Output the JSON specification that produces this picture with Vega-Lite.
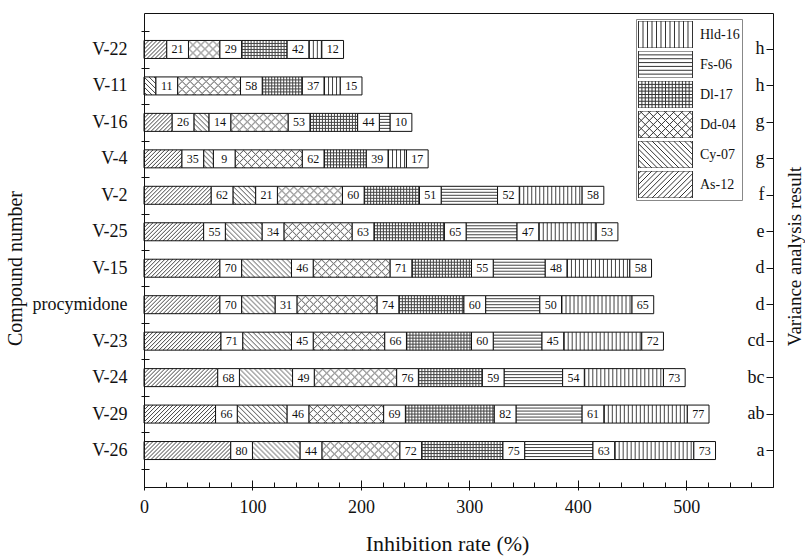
{
  "$schema": "https://vega.github.io/schema/vega-lite/v6.json",
  "autosize": "none",
  "padding": {"left": 144, "top": 13, "right": 32, "bottom": 69},
  "width": 629,
  "height": 474,
  "background": "white",
  "datasets": {
    "segments": [
      {"compound": "V-22", "series": "As-12", "value": 21},
      {"compound": "V-22", "series": "Dd-04", "value": 29},
      {"compound": "V-22", "series": "Dl-17", "value": 42},
      {"compound": "V-22", "series": "Hld-16", "value": 12},
      {"compound": "V-11", "series": "Cy-07", "value": 11},
      {"compound": "V-11", "series": "Dd-04", "value": 58},
      {"compound": "V-11", "series": "Dl-17", "value": 37},
      {"compound": "V-11", "series": "Hld-16", "value": 15},
      {"compound": "V-16", "series": "As-12", "value": 26},
      {"compound": "V-16", "series": "Cy-07", "value": 14},
      {"compound": "V-16", "series": "Dd-04", "value": 53},
      {"compound": "V-16", "series": "Dl-17", "value": 44},
      {"compound": "V-16", "series": "Fs-06", "value": 10},
      {"compound": "V-4", "series": "As-12", "value": 35},
      {"compound": "V-4", "series": "Cy-07", "value": 9},
      {"compound": "V-4", "series": "Dd-04", "value": 62},
      {"compound": "V-4", "series": "Dl-17", "value": 39},
      {"compound": "V-4", "series": "Hld-16", "value": 17},
      {"compound": "V-2", "series": "As-12", "value": 62},
      {"compound": "V-2", "series": "Cy-07", "value": 21},
      {"compound": "V-2", "series": "Dd-04", "value": 60},
      {"compound": "V-2", "series": "Dl-17", "value": 51},
      {"compound": "V-2", "series": "Fs-06", "value": 52},
      {"compound": "V-2", "series": "Hld-16", "value": 58},
      {"compound": "V-25", "series": "As-12", "value": 55},
      {"compound": "V-25", "series": "Cy-07", "value": 34},
      {"compound": "V-25", "series": "Dd-04", "value": 63},
      {"compound": "V-25", "series": "Dl-17", "value": 65},
      {"compound": "V-25", "series": "Fs-06", "value": 47},
      {"compound": "V-25", "series": "Hld-16", "value": 53},
      {"compound": "V-15", "series": "As-12", "value": 70},
      {"compound": "V-15", "series": "Cy-07", "value": 46},
      {"compound": "V-15", "series": "Dd-04", "value": 71},
      {"compound": "V-15", "series": "Dl-17", "value": 55},
      {"compound": "V-15", "series": "Fs-06", "value": 48},
      {"compound": "V-15", "series": "Hld-16", "value": 58},
      {"compound": "procymidone", "series": "As-12", "value": 70},
      {"compound": "procymidone", "series": "Cy-07", "value": 31},
      {"compound": "procymidone", "series": "Dd-04", "value": 74},
      {"compound": "procymidone", "series": "Dl-17", "value": 60},
      {"compound": "procymidone", "series": "Fs-06", "value": 50},
      {"compound": "procymidone", "series": "Hld-16", "value": 65},
      {"compound": "V-23", "series": "As-12", "value": 71},
      {"compound": "V-23", "series": "Cy-07", "value": 45},
      {"compound": "V-23", "series": "Dd-04", "value": 66},
      {"compound": "V-23", "series": "Dl-17", "value": 60},
      {"compound": "V-23", "series": "Fs-06", "value": 45},
      {"compound": "V-23", "series": "Hld-16", "value": 72},
      {"compound": "V-24", "series": "As-12", "value": 68},
      {"compound": "V-24", "series": "Cy-07", "value": 49},
      {"compound": "V-24", "series": "Dd-04", "value": 76},
      {"compound": "V-24", "series": "Dl-17", "value": 59},
      {"compound": "V-24", "series": "Fs-06", "value": 54},
      {"compound": "V-24", "series": "Hld-16", "value": 73},
      {"compound": "V-29", "series": "As-12", "value": 66},
      {"compound": "V-29", "series": "Cy-07", "value": 46},
      {"compound": "V-29", "series": "Dd-04", "value": 69},
      {"compound": "V-29", "series": "Dl-17", "value": 82},
      {"compound": "V-29", "series": "Fs-06", "value": 61},
      {"compound": "V-29", "series": "Hld-16", "value": 77},
      {"compound": "V-26", "series": "As-12", "value": 80},
      {"compound": "V-26", "series": "Cy-07", "value": 44},
      {"compound": "V-26", "series": "Dd-04", "value": 72},
      {"compound": "V-26", "series": "Dl-17", "value": 75},
      {"compound": "V-26", "series": "Fs-06", "value": 63},
      {"compound": "V-26", "series": "Hld-16", "value": 73}
    ],
    "results": [
      {"compound": "V-22", "result": "h"},
      {"compound": "V-11", "result": "h"},
      {"compound": "V-16", "result": "g"},
      {"compound": "V-4", "result": "g"},
      {"compound": "V-2", "result": "f"},
      {"compound": "V-25", "result": "e"},
      {"compound": "V-15", "result": "d"},
      {"compound": "procymidone", "result": "d"},
      {"compound": "V-23", "result": "cd"},
      {"compound": "V-24", "result": "bc"},
      {"compound": "V-29", "result": "ab"},
      {"compound": "V-26", "result": "a"}
    ]
  },
  "data": {"name": "segments"},
  "transform": [
    {"window": [{"op": "sum", "field": "value", "as": "cum"}, {"op": "row_number", "as": "idx"}], "groupby": ["compound"], "sort": [{"field": "series", "order": "ascending"}], "frame": [null, 0]},
    {"calculate": "datum.cum - datum.value + 20 * (datum.idx - 1)", "as": "x0"},
    {"calculate": "datum.x0 + datum.value", "as": "x1"},
    {"calculate": "datum.x1 + 20", "as": "x2"}
  ],
  "encoding": {
    "y": {"field": "compound", "type": "nominal", "scale": {"domain": ["V-22","V-11","V-16","V-4","V-2","V-25","V-15","procymidone","V-23","V-24","V-29","V-26"], "paddingInner": 0, "paddingOuter": 0.5}, "axis": null}
  },
  "resolve": {"axis": {"x": "independent", "y": "independent"}},
  "layer": [
    {
      "transform": [{"filter": {"field": "series", "oneOf": ["As-12", "Cy-07", "Dd-04"]}}],
      "encoding": {
        "x": {"field": "x0", "type": "quantitative", "scale": {"domain": [0, 580], "nice": false}, "axis": null},
        "x2": {"field": "x1"}
      },
      "layer": [
        {"mark": {"type": "rule", "yOffset": -8.5, "strokeWidth": 1, "color": "#444"}, "encoding": {"strokeDash": {"condition": [{"test": "datum.series==='As-12'", "value": [1,3]}, {"test": "datum.series==='Cy-07'", "value": [1,4]}], "value": [1,7]}}},
        {"mark": {"type": "rule", "yOffset": -7.5, "strokeWidth": 1, "color": "#444"}, "encoding": {"strokeDash": {"condition": [{"test": "datum.series==='As-12'", "value": [0,3,1,0]}, {"test": "datum.series==='Cy-07'", "value": [0,1,1,3]}], "value": [0,1,1,5,1,0]}}},
        {"mark": {"type": "rule", "yOffset": -6.5, "strokeWidth": 1, "color": "#444"}, "encoding": {"strokeDash": {"condition": [{"test": "datum.series==='As-12'", "value": [0,2,1,1]}, {"test": "datum.series==='Cy-07'", "value": [0,2,1,2]}], "value": [0,2,1,3,1,1]}}},
        {"mark": {"type": "rule", "yOffset": -5.5, "strokeWidth": 1, "color": "#444"}, "encoding": {"strokeDash": {"condition": [{"test": "datum.series==='As-12'", "value": [0,1,1,2]}, {"test": "datum.series==='Cy-07'", "value": [0,3,1,1]}], "value": [0,3,1,1,1,2]}}},
        {"mark": {"type": "rule", "yOffset": -4.5, "strokeWidth": 1, "color": "#444"}, "encoding": {"strokeDash": {"condition": [{"test": "datum.series==='As-12'", "value": [1,3]}, {"test": "datum.series==='Cy-07'", "value": [0,4,1,0]}], "value": [0,4,1,3]}}},
        {"mark": {"type": "rule", "yOffset": -3.5, "strokeWidth": 1, "color": "#444"}, "encoding": {"strokeDash": {"condition": [{"test": "datum.series==='As-12'", "value": [0,3,1,0]}, {"test": "datum.series==='Cy-07'", "value": [1,4]}], "value": [0,3,1,1,1,2]}}},
        {"mark": {"type": "rule", "yOffset": -2.5, "strokeWidth": 1, "color": "#444"}, "encoding": {"strokeDash": {"condition": [{"test": "datum.series==='As-12'", "value": [0,2,1,1]}, {"test": "datum.series==='Cy-07'", "value": [0,1,1,3]}], "value": [0,2,1,3,1,1]}}},
        {"mark": {"type": "rule", "yOffset": -1.5, "strokeWidth": 1, "color": "#444"}, "encoding": {"strokeDash": {"condition": [{"test": "datum.series==='As-12'", "value": [0,1,1,2]}, {"test": "datum.series==='Cy-07'", "value": [0,2,1,2]}], "value": [0,1,1,5,1,0]}}},
        {"mark": {"type": "rule", "yOffset": -0.5, "strokeWidth": 1, "color": "#444"}, "encoding": {"strokeDash": {"condition": [{"test": "datum.series==='As-12'", "value": [1,3]}, {"test": "datum.series==='Cy-07'", "value": [0,3,1,1]}], "value": [1,7]}}},
        {"mark": {"type": "rule", "yOffset": 0.5, "strokeWidth": 1, "color": "#444"}, "encoding": {"strokeDash": {"condition": [{"test": "datum.series==='As-12'", "value": [0,3,1,0]}, {"test": "datum.series==='Cy-07'", "value": [0,4,1,0]}], "value": [0,1,1,5,1,0]}}},
        {"mark": {"type": "rule", "yOffset": 1.5, "strokeWidth": 1, "color": "#444"}, "encoding": {"strokeDash": {"condition": [{"test": "datum.series==='As-12'", "value": [0,2,1,1]}, {"test": "datum.series==='Cy-07'", "value": [1,4]}], "value": [0,2,1,3,1,1]}}},
        {"mark": {"type": "rule", "yOffset": 2.5, "strokeWidth": 1, "color": "#444"}, "encoding": {"strokeDash": {"condition": [{"test": "datum.series==='As-12'", "value": [0,1,1,2]}, {"test": "datum.series==='Cy-07'", "value": [0,1,1,3]}], "value": [0,3,1,1,1,2]}}},
        {"mark": {"type": "rule", "yOffset": 3.5, "strokeWidth": 1, "color": "#444"}, "encoding": {"strokeDash": {"condition": [{"test": "datum.series==='As-12'", "value": [1,3]}, {"test": "datum.series==='Cy-07'", "value": [0,2,1,2]}], "value": [0,4,1,3]}}},
        {"mark": {"type": "rule", "yOffset": 4.5, "strokeWidth": 1, "color": "#444"}, "encoding": {"strokeDash": {"condition": [{"test": "datum.series==='As-12'", "value": [0,3,1,0]}, {"test": "datum.series==='Cy-07'", "value": [0,3,1,1]}], "value": [0,3,1,1,1,2]}}},
        {"mark": {"type": "rule", "yOffset": 5.5, "strokeWidth": 1, "color": "#444"}, "encoding": {"strokeDash": {"condition": [{"test": "datum.series==='As-12'", "value": [0,2,1,1]}, {"test": "datum.series==='Cy-07'", "value": [0,4,1,0]}], "value": [0,2,1,3,1,1]}}},
        {"mark": {"type": "rule", "yOffset": 6.5, "strokeWidth": 1, "color": "#444"}, "encoding": {"strokeDash": {"condition": [{"test": "datum.series==='As-12'", "value": [0,1,1,2]}, {"test": "datum.series==='Cy-07'", "value": [1,4]}], "value": [0,1,1,5,1,0]}}},
        {"mark": {"type": "rule", "yOffset": 7.5, "strokeWidth": 1, "color": "#444"}, "encoding": {"strokeDash": {"condition": [{"test": "datum.series==='As-12'", "value": [1,3]}, {"test": "datum.series==='Cy-07'", "value": [0,1,1,3]}], "value": [1,7]}}},
        {"mark": {"type": "rule", "yOffset": 8.5, "strokeWidth": 1, "color": "#444"}, "encoding": {"strokeDash": {"condition": [{"test": "datum.series==='As-12'", "value": [0,3,1,0]}, {"test": "datum.series==='Cy-07'", "value": [0,2,1,2]}], "value": [0,1,1,5,1,0]}}}
      ]
    },
    {
      "transform": [{"filter": {"field": "series", "oneOf": ["Hld-16", "Dl-17"]}}],
      "mark": {"type": "rule", "strokeWidth": 18, "color": "#444"},
      "encoding": {
        "x": {"field": "x0", "type": "quantitative", "scale": {"domain": [0, 580], "nice": false}, "axis": null},
        "x2": {"field": "x1"},
        "strokeDash": {"condition": {"test": "datum.series==='Hld-16'", "value": [1,3]}, "value": [1,2]}
      }
    },
    {
      "transform": [{"filter": {"field": "series", "oneOf": ["Fs-06", "Dl-17"]}}],
      "encoding": {
        "x": {"field": "x0", "type": "quantitative", "scale": {"domain": [0, 580], "nice": false}, "axis": null},
        "x2": {"field": "x1"}
      },
      "layer": [
        {"mark": {"type": "rule", "yOffset": -6, "strokeWidth": 1, "color": "#444"}, "encoding": {}},
        {"mark": {"type": "rule", "yOffset": -3, "strokeWidth": 1, "color": "#444"}, "encoding": {}},
        {"mark": {"type": "rule", "yOffset": 0, "strokeWidth": 1, "color": "#444"}, "encoding": {}},
        {"mark": {"type": "rule", "yOffset": 3, "strokeWidth": 1, "color": "#444"}, "encoding": {}},
        {"mark": {"type": "rule", "yOffset": 6, "strokeWidth": 1, "color": "#444"}, "encoding": {}}
      ]
    },
    {
      "mark": {"type": "bar", "height": 18, "fill": "transparent", "stroke": "#111", "strokeWidth": 1},
      "encoding": {
        "x": {"field": "x0", "type": "quantitative", "scale": {"domain": [0, 580], "nice": false},
          "axis": {"orient": "bottom", "values": [0,100,200,300,400,500], "ticks": true, "tickSize": 10, "offset": -7, "domain": false, "labelPadding": 8, "labelFontSize": 18, "labelFlush": false, "labelOverlap": false, "title": "Inhibition rate (%)", "titleFontSize": 22, "titleX": 303, "titleY": 70, "titleBaseline": "alphabetic", "titleAlign": "center", "zindex": 2}},
        "x2": {"field": "x1"},
        "y": {"field": "compound", "type": "nominal", "scale": {"domain": ["V-22","V-11","V-16","V-4","V-2","V-25","V-15","procymidone","V-23","V-24","V-29","V-26"], "paddingInner": 0, "paddingOuter": 0.5},
          "axis": {"orient": "left", "ticks": true, "tickBand": "extent", "tickSize": 8, "offset": -5, "domain": false, "labelPadding": 14, "labelFontSize": 18, "title": "Compound number", "titleFontSize": 20, "titleX": -134, "titleY": 255, "titleAngle": -90, "titleBaseline": "middle", "titleAlign": "center", "zindex": 2}}
      }
    },
    {
      "mark": {"type": "point", "filled": false, "color": "#222", "strokeWidth": 1, "size": 30, "opacity": 1, "xOffset": 10.85},
      "encoding": {
        "x": {"field": "x1", "type": "quantitative", "scale": {"domain": [0, 580], "nice": false}, "axis": null},
        "shape": {"field": "series", "type": "nominal",
          "scale": {"domain": ["Hld-16", "Fs-06", "Dl-17", "Dd-04", "Cy-07", "As-12"],
            "range": [
              "M-1,-0.5H1V0.5H-1ZM-0.833,-0.5V0.5M-0.667,-0.5V0.5M-0.5,-0.5V0.5M-0.333,-0.5V0.5M-0.167,-0.5V0.5M0,-0.5V0.5M0.167,-0.5V0.5M0.333,-0.5V0.5M0.5,-0.5V0.5M0.667,-0.5V0.5M0.833,-0.5V0.5",
              "M-1,-0.5H1V0.5H-1ZM-1,-0.357H1M-1,-0.214H1M-1,-0.071H1M-1,0.071H1M-1,0.214H1M-1,0.357H1",
              "M-1,-0.5H1V0.5H-1ZM-0.875,-0.5V0.5M-0.75,-0.5V0.5M-0.625,-0.5V0.5M-0.5,-0.5V0.5M-0.375,-0.5V0.5M-0.25,-0.5V0.5M-0.125,-0.5V0.5M0,-0.5V0.5M0.125,-0.5V0.5M0.25,-0.5V0.5M0.375,-0.5V0.5M0.5,-0.5V0.5M0.625,-0.5V0.5M0.75,-0.5V0.5M0.875,-0.5V0.5M-1,-0.375H1M-1,-0.25H1M-1,-0.125H1M-1,0H1M-1,0.125H1M-1,0.25H1M-1,0.375H1",
              "M-1,-0.5H1V0.5H-1ZM-1,-0.35L-0.85,-0.5M-1,-0.05L-0.55,-0.5M-1,0.25L-0.25,-0.5M-0.95,0.5L0.05,-0.5M-0.65,0.5L0.35,-0.5M-0.35,0.5L0.65,-0.5M-0.05,0.5L0.95,-0.5M0.25,0.5L1,-0.25M0.55,0.5L1,0.05M0.85,0.5L1,0.35M-1,0.35L-0.85,0.5M-1,0.05L-0.55,0.5M-1,-0.25L-0.25,0.5M-0.95,-0.5L0.05,0.5M-0.65,-0.5L0.35,0.5M-0.35,-0.5L0.65,0.5M-0.05,-0.5L0.95,0.5M0.25,-0.5L1,0.25M0.55,-0.5L1,-0.05M0.85,-0.5L1,-0.35",
              "M-1,-0.5H1V0.5H-1ZM-1,0.4L-0.9,0.5M-1,0.2L-0.7,0.5M-1,0L-0.5,0.5M-1,-0.2L-0.3,0.5M-1,-0.4L-0.1,0.5M-0.9,-0.5L0.1,0.5M-0.7,-0.5L0.3,0.5M-0.5,-0.5L0.5,0.5M-0.3,-0.5L0.7,0.5M-0.1,-0.5L0.9,0.5M0.1,-0.5L1,0.4M0.3,-0.5L1,0.2M0.5,-0.5L1,0M0.7,-0.5L1,-0.2M0.9,-0.5L1,-0.4",
              "M-1,-0.5H1V0.5H-1ZM-1,-0.4L-0.9,-0.5M-1,-0.2L-0.7,-0.5M-1,0L-0.5,-0.5M-1,0.2L-0.3,-0.5M-1,0.4L-0.1,-0.5M-0.9,0.5L0.1,-0.5M-0.7,0.5L0.3,-0.5M-0.5,0.5L0.5,-0.5M-0.3,0.5L0.7,-0.5M-0.1,0.5L0.9,-0.5M0.1,0.5L1,-0.4M0.3,0.5L1,-0.2M0.5,0.5L1,0M0.7,0.5L1,0.2M0.9,0.5L1,0.4"
            ]},
          "legend": {"orient": "none", "legendX": 492, "legendY": 6, "title": null, "symbolSize": 2916, "clipHeight": 27, "rowPadding": 3, "labelOffset": 7, "labelFont": "Liberation Serif", "labelFontSize": 14, "labelColor": "#111", "strokeColor": "#888", "padding": 2, "symbolStrokeColor": "#333", "symbolFillColor": "white", "symbolStrokeWidth": 1, "symbolOpacity": 1}
        }
      }
    },
    {
      "mark": {"type": "bar", "height": 18, "fill": "white", "stroke": "#111", "strokeWidth": 1},
      "encoding": {
        "x": {"field": "x1", "type": "quantitative", "scale": {"domain": [0, 580], "nice": false}, "axis": null},
        "x2": {"field": "x2"}
      }
    },
    {
      "mark": {"type": "text", "dx": 10.85, "align": "center", "baseline": "middle", "fontSize": 12, "font": "Liberation Serif", "color": "#111"},
      "encoding": {
        "x": {"field": "x1", "type": "quantitative", "scale": {"domain": [0, 580], "nice": false},
          "axis": {"orient": "bottom", "values": [20,40,60,80,120,140,160,180,220,240,260,280,320,340,360,380,420,440,460,480,520,540,560,580], "labels": true, "labelOpacity": 0, "labelFontSize": 8, "ticks": true, "tickSize": 5, "offset": -5, "domain": false, "title": null, "zindex": 2}},
        "text": {"field": "value", "type": "quantitative"}
      }
    },
    {
      "data": {"name": "results"},
      "mark": {"type": "point", "opacity": 0},
      "encoding": {
        "y": {"field": "compound", "type": "nominal", "scale": {"domain": ["V-22","V-11","V-16","V-4","V-2","V-25","V-15","procymidone","V-23","V-24","V-29","V-26"], "paddingInner": 0, "paddingOuter": 0.5},
          "axis": {"orient": "right", "ticks": true, "tickSize": 7, "offset": -7, "domain": false, "labelAlign": "right", "labelPadding": -9, "labelFontSize": 18, "labelExpr": "pluck(data('results'), 'result')[indexof(pluck(data('results'), 'compound'), datum.value)]", "title": "Variance analysis result", "titleFontSize": 19, "titleAngle": -90, "titleX": 28, "titleY": 243, "titleBaseline": "middle", "titleAlign": "center", "zindex": 2}}
      }
    }
  ],
  "config": {
    "font": "Liberation Serif",
    "axis": {"grid": false, "labelFont": "Liberation Serif", "titleFont": "Liberation Serif", "labelColor": "#111", "titleColor": "#111", "titleFontWeight": "normal", "tickColor": "#111", "tickWidth": 1},
    "view": {"stroke": "#111", "strokeWidth": 1}
  }
}
